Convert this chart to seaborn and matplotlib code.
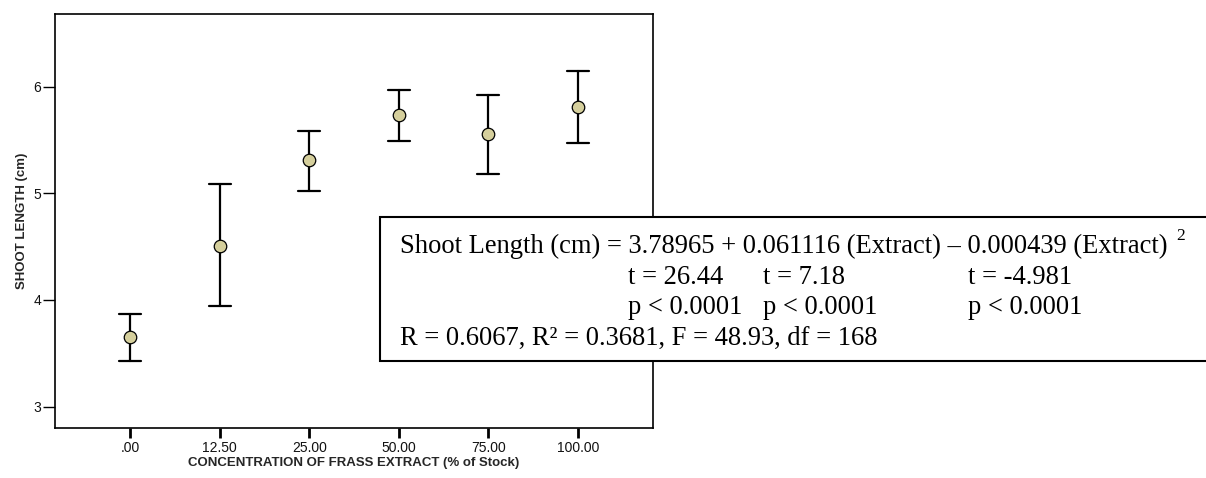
import numpy as np
import pandas as pd
import matplotlib
matplotlib.use("Agg")
import matplotlib.pyplot as plt
import seaborn as sns
from matplotlib.patches import Rectangle

# ---- data ----
concentrations = [".00", "12.50", "25.00", "50.00", "75.00", "100.00"]
means = [3.65, 4.51, 5.31, 5.73, 5.56, 5.81]
ci_low = [3.43, 3.94, 5.02, 5.49, 5.18, 5.47]
ci_high = [3.87, 5.09, 5.58, 5.97, 5.92, 6.15]
y_ticks = [3, 4, 5, 6]

x_label = "CONCENTRATION OF FRASS EXTRACT (% of Stock)"
y_label = "SHOOT LENGTH (cm)"

eq_prefix = "Shoot Length (cm) = "
eq_terms = ["3.78965", " + 0.061116 (Extract) \u2013 ", "0.000439 (Extract)"]
eq_t = ["t = 26.44", "t = 7.18", "t = -4.981"]
eq_p = ["p < 0.0001", "p < 0.0001", "p < 0.0001"]
eq_line4 = "R = 0.6067, R\u00b2 = 0.3681, F = 48.93, df = 168"

# long-form table: lower bound, mean, upper bound per category
df = pd.DataFrame({
    "conc": np.repeat(concentrations, 3),
    "val": np.column_stack([ci_low, means, ci_high]).ravel(),
})

sns.set_theme(style="ticks")
plt.rcParams["font.family"] = ["Liberation Sans", "DejaVu Sans"]

W, H = 1206, 478
fig = plt.figure(figsize=(W / 100, H / 100), dpi=100)
left, right, top, bottom = 55, 653, 14, 428
ax = fig.add_axes([left / W, 1 - bottom / H, (right - left) / W, (bottom - top) / H])

sns.pointplot(
    data=df, x="conc", y="val", order=concentrations,
    estimator="median", errorbar=lambda v: (v.min(), v.max()),
    linestyle="none", color="black", capsize=0.25,
    err_kws={"linewidth": 1.6, "zorder": 2},
    marker="o", markersize=9, markerfacecolor="#d5cf9c",
    markeredgecolor="black", markeredgewidth=0.9, zorder=4,
    ax=ax,
)

ax.set_xlim(-0.84, 5.84)
ax.set_ylim(2.80, 6.68)
ax.set_yticks(y_ticks)
ax.set_yticklabels([str(t) for t in y_ticks])
for s in ax.spines.values():
    s.set_visible(True)
    s.set_color("black")
    s.set_linewidth(1.2)
ax.tick_params(axis="both", which="major", direction="out", color="black",
               labelsize=10, labelcolor="#111111",
               bottom=True, left=True, top=False, right=False)
ax.tick_params(axis="y", length=8.5, width=1.0, pad=1.5)
ax.tick_params(axis="x", length=7.5, width=2.0, pad=1.5)
ax.set_xlabel(x_label, fontsize=9.5, fontweight="bold", labelpad=2)
ax.set_ylabel(y_label, fontsize=9.5, fontweight="bold", labelpad=4)

# equation box (extends past the right edge)
box = Rectangle((380 / W, 1 - 361 / H), (1215 - 380) / W, (361 - 217) / H,
                transform=fig.transFigure, facecolor="white", edgecolor="black",
                linewidth=1.5, zorder=10, clip_on=False)
fig.add_artist(box)

serif = ["Liberation Serif", "DejaVu Serif"]
fs = 19.1
renderer = fig.canvas.get_renderer()

def tw(s, size=fs):
    t = fig.text(0, 0, s, fontsize=size, family=serif)
    w = t.get_window_extent(renderer).width
    t.remove()
    return w

def ftext(x, y, s, size=fs):
    fig.text(x / W, 1 - y / H, s, fontsize=size, family=serif, ha="left",
             va="baseline", color="black", zorder=11)

x0 = 400
base = [253, 283.7, 314.3, 345]
line1 = eq_prefix + "".join(eq_terms)
ftext(x0, base[0], line1)
ftext(x0 + tw(line1 + ".") - tw(".") + 9, base[0] - 13, "2", size=12.5)

# column positions aligned with the coefficients of line 1
c1 = x0 + tw(eq_prefix + "3") - tw("3")
c2 = x0 + tw(eq_prefix + eq_terms[0] + " + 0") - tw("0") + 20
c3 = x0 + tw(eq_prefix + eq_terms[0] + eq_terms[1] + "0") - tw("0")
cols = [c1, c2, c3]
for c, t in zip(cols, eq_t):
    ftext(c, base[1], t)
for c, p in zip(cols, eq_p):
    ftext(c, base[2], p)
ftext(x0, base[3], eq_line4)

fig.savefig("out.png", dpi=100)
